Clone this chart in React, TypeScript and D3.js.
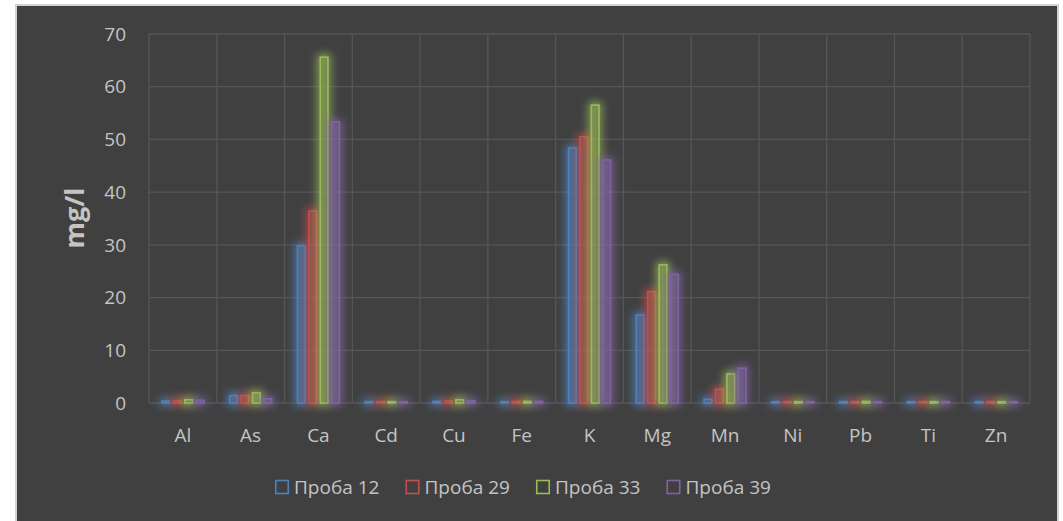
import React from "react";
import * as d3 from "d3";

// elements on the x axis
const elements = ["Al", "As", "Ca", "Cd", "Cu", "Fe", "K", "Mg", "Mn", "Ni", "Pb", "Ti", "Zn"];

// one list per sample, mg/l
const proba12 = [0.35, 1.4, 29.8, 0.25, 0.3, 0.25, 48.4, 16.7, 0.7, 0.25, 0.25, 0.25, 0.25];
const proba29 = [0.45, 1.4, 36.4, 0.25, 0.4, 0.3, 50.5, 21.1, 2.6, 0.25, 0.25, 0.25, 0.25];
const proba33 = [0.6, 1.9, 65.6, 0.25, 0.6, 0.3, 56.5, 26.2, 5.5, 0.25, 0.3, 0.25, 0.25];
const proba39 = [0.5, 0.8, 53.3, 0.25, 0.4, 0.3, 46.1, 24.4, 6.6, 0.25, 0.25, 0.25, 0.25];

const seriesNames = ["Проба 12", "Проба 29", "Проба 33", "Проба 39"];
const seriesValues = [proba12, proba29, proba33, proba39];
const seriesColors = ["#4f81bd", "#c0504d", "#9bbb59", "#8064a2"];

const yTicks = [0, 10, 20, 30, 40, 50, 60, 70];

const W = 1063;
const H = 521;
const plot = { left: 149, right: 1030, top: 34, bottom: 403 };
const font = "'Open Sans', 'DejaVu Sans', sans-serif";
const textColor = "#c4c4c4";

export default function App() {
  const x = d3.scaleBand<string>().domain(elements).range([plot.left, plot.right]);
  const y = d3.scaleLinear().domain([0, 70]).range([plot.bottom, plot.top]);

  // bars within one category
  const groupW = x.bandwidth() * 0.64;
  const x1 = d3
    .scaleBand<number>()
    .domain(d3.range(seriesNames.length))
    .range([-groupW / 2, groupW / 2])
    .paddingInner(0.2);

  const legendStep = 130.5;
  const legendX = 275;

  return (
    <svg width={W} height={H} style={{ position: "absolute", left: 0, top: 0, display: "block" }}>
      <defs>
        <filter id="glow" x="-100%" y="-100%" width="300%" height="300%">
          <feMorphology in="SourceGraphic" operator="dilate" radius="1.5" result="fat" />
          <feGaussianBlur in="fat" stdDeviation="4" result="blur" />
          <feComponentTransfer in="blur" result="soft">
            <feFuncA type="linear" slope="0.9" />
          </feComponentTransfer>
          <feMerge>
            <feMergeNode in="soft" />
            <feMergeNode in="SourceGraphic" />
          </feMerge>
        </filter>
      </defs>

      <rect x={0} y={0} width={W} height={H} fill="#ffffff" />
      <rect x={16} y={5} width={1042} height={520} fill="#404040" stroke="#d2d2d2" strokeWidth={2} />

      {/* grid */}
      {yTicks.map(t => (
        <line key={"h" + t} x1={plot.left} x2={plot.right} y1={y(t)} y2={y(t)} stroke="#565656" strokeWidth={1.3} />
      ))}
      {elements.map(e => (
        <line key={"v" + e} x1={x(e)} x2={x(e)} y1={plot.top} y2={plot.bottom} stroke="#565656" strokeWidth={1.3} />
      ))}
      <line x1={plot.right} x2={plot.right} y1={plot.top} y2={plot.bottom} stroke="#565656" strokeWidth={1.3} />

      {/* y tick labels */}
      {yTicks.map(t => (
        <text key={"yl" + t} x={126} y={y(t)} dy="0.35em" textAnchor="end" fontFamily={font} fontSize={19} fill={textColor}>
          {t}
        </text>
      ))}

      {/* axis title */}
      <text
        transform={`translate(84, 218) rotate(-90)`}
        textAnchor="middle"
        fontFamily={font}
        fontWeight="bold"
        fontSize={27}
        fill="#c4c4c4"
      >
        mg/l
      </text>

      {/* bars */}
      {seriesValues.map((vals, si) => (
        <g key={seriesNames[si]} filter="url(#glow)">
          {vals.map((v, i) => {
            const cx = (x(elements[i]) as number) + x.bandwidth() / 2;
            const bx = cx + (x1(si) as number);
            const top = y(v);
            return (
              <rect
                key={elements[i]}
                x={bx + 0.75}
                y={top}
                width={x1.bandwidth() - 1.5}
                height={Math.max(0.5, plot.bottom - top)}
                fill={seriesColors[si]}
                fillOpacity={0.08}
                stroke={seriesColors[si]}
                strokeWidth={1.6}
              />
            );
          })}
        </g>
      ))}

      {/* x labels */}
      {elements.map(e => (
        <text
          key={"xl" + e}
          x={(x(e) as number) + x.bandwidth() / 2}
          y={435}
          dy="0.35em"
          textAnchor="middle"
          fontFamily={font}
          fontSize={19}
          fill={textColor}
        >
          {e}
        </text>
      ))}

      {/* legend */}
      {seriesNames.map((n, i) => (
        <g key={"lg" + n} transform={`translate(${legendX + i * legendStep}, 487)`}>
          <rect x={0.75} y={-6.5} width={12.5} height={13} fill="none" stroke={seriesColors[i]} strokeWidth={1.6} />
          <text x={19} y={0} dy="0.35em" fontFamily={font} fontSize={19} fill={textColor}>
            {n}
          </text>
        </g>
      ))}
    </svg>
  );
}
